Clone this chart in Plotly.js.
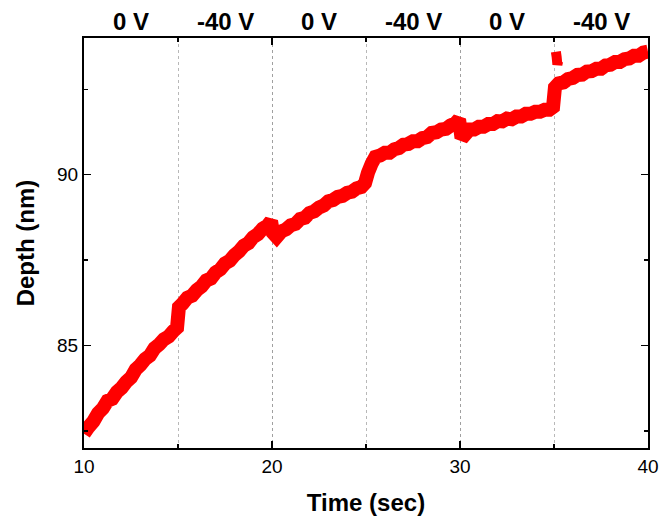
<!DOCTYPE html>
<html>
<head>
<meta charset="utf-8">
<script src="https://cdn.plot.ly/plotly-3.0.1.min.js"></script>
<style>html,body{margin:0;padding:0;background:#fff;}#chart{width:662px;height:522px;}</style>
</head>
<body>
<div id="chart"></div>
<script>
// Time (sec) and Depth (nm)
const time = [10.0,10.25,10.5,10.75,11.0,11.25,11.5,11.75,12.0,12.25,12.5,12.75,13.0,13.25,13.5,13.75,14.0,14.25,14.5,14.75,14.95,
  15.05,15.25,15.5,15.75,16.0,16.25,16.5,16.75,17.0,17.25,17.5,17.75,18.0,18.25,18.5,18.75,19.0,19.25,19.5,19.75,19.95,
  20.05,20.25,20.5,20.75,21.0,21.25,21.5,21.75,22.0,22.25,22.5,22.75,23.0,23.25,23.5,23.75,24.0,24.25,24.5,24.75,24.95,
  25.1,25.3,25.5,25.75,26.0,26.25,26.5,26.75,27.0,27.25,27.5,27.75,28.0,28.25,28.5,28.75,29.0,29.25,29.5,29.75,29.95,
  30.05,30.25,30.5,30.75,31.0,31.25,31.5,31.75,32.0,32.25,32.5,32.75,33.0,33.25,33.5,33.75,34.0,34.25,34.5,34.75,34.95,
  35.05,35.25,35.5,35.75,36.0,36.25,36.5,36.75,37.0,37.25,37.5,37.75,38.0,38.25,38.5,38.75,39.0,39.25,39.5,39.75,40.0];
const depth = [82.42,82.62,82.78,83.02,83.16,83.38,83.44,83.64,83.76,83.94,84.06,84.30,84.43,84.60,84.70,84.92,85.03,85.18,85.26,85.42,85.52,
  86.12,86.23,86.40,86.46,86.62,86.73,86.90,86.96,87.14,87.23,87.40,87.48,87.64,87.76,87.92,88.00,88.17,88.26,88.42,88.50,88.64,
  88.30,88.18,88.34,88.40,88.52,88.56,88.70,88.74,88.88,88.93,89.04,89.10,89.22,89.26,89.35,89.38,89.47,89.50,89.60,89.64,89.76,
  90.05,90.32,90.52,90.56,90.64,90.64,90.74,90.78,90.88,90.90,90.98,90.98,91.07,91.10,91.22,91.24,91.32,91.34,91.44,91.50,91.62,
  91.20,91.16,91.32,91.32,91.40,91.40,91.48,91.48,91.57,91.56,91.64,91.62,91.70,91.70,91.78,91.78,91.84,91.84,91.90,91.90,91.98,
  92.55,92.67,92.70,92.80,92.83,92.92,92.93,93.02,93.03,93.10,93.10,93.20,93.22,93.30,93.30,93.38,93.40,93.48,93.48,93.57,93.60];
// isolated cluster just after 35 s
const spikeTime = [35.1,35.14,35.18,35.22];
const spikeDepth = [93.6,93.45,93.22,93.32];
// voltage labels per 5 s interval
const labelTime = [12.5,17.5,22.5,27.5,32.5,37.5];
const labelText = ['0 V','-40 V','0 V','-40 V','0 V','-40 V'];

const red = '#ff0000';
const traces = [
  {x: time, y: depth, mode: 'lines', line: {color: red, width: 14, simplify: false}, showlegend: false, hoverinfo: 'skip'},
  {x: spikeTime, y: spikeDepth, mode: 'lines', line: {color: red, width: 10, simplify: false}, showlegend: false, hoverinfo: 'skip'}
];
const tickFont = {family: 'Arial, Liberation Sans, sans-serif', size: 19, color: '#000'};
const titleFont = {family: 'Arial, Liberation Sans, sans-serif', size: 24, color: '#000', weight: 'bold'};
const layout = {
  width: 662, height: 522,
  margin: {l: 84, r: 14, t: 38, b: 74},
  paper_bgcolor: '#fff', plot_bgcolor: '#fff',
  showlegend: false,
  xaxis: {
    range: [10, 40], tickvals: [10, 20, 30, 40], ticktext: ['10','20','30','40'],
    ticks: 'inside', ticklen: 7, tickwidth: 1.5, tickcolor: '#000',
    showline: true, linecolor: '#000', linewidth: 2, mirror: 'allticks',
    showgrid: true, gridcolor: '#a0a0a0', gridwidth: 1, griddash: '3px,3px',
    zeroline: false, tickfont: tickFont,
    minor: {tickvals: [15, 25, 35], ticks: 'inside', ticklen: 4, tickwidth: 1.5, tickcolor: '#000',
            showgrid: true, gridcolor: '#b8b8b8', gridwidth: 1, griddash: '3px,3px'},
    title: {text: 'Time (sec)', font: titleFont, standoff: 18}
  },
  yaxis: {
    range: [82, 94], tickvals: [85, 90], ticktext: ['85','90'],
    ticks: 'inside', ticklen: 7, tickwidth: 1.5, tickcolor: '#000',
    showline: true, linecolor: '#000', linewidth: 2, mirror: 'allticks',
    showgrid: false, zeroline: false, tickfont: tickFont,
    minor: {tickvals: [82.5, 87.5, 92.5], ticks: 'inside', ticklen: 4, tickwidth: 1.5, tickcolor: '#000', showgrid: false},
    title: {text: 'Depth (nm)', font: titleFont, standoff: 16}
  },
  annotations: labelTime.map((t, i) => ({
    x: t, xref: 'x', y: 1.04, yref: 'paper', yanchor: 'middle', xanchor: 'center',
    text: '<b>' + labelText[i] + '</b>', showarrow: false,
    font: {family: 'Arial, Liberation Sans, sans-serif', size: 24, color: '#000'}
  }))
};
Plotly.newPlot('chart', traces, layout, {staticPlot: true, displayModeBar: false});
</script>
</body>
</html>
